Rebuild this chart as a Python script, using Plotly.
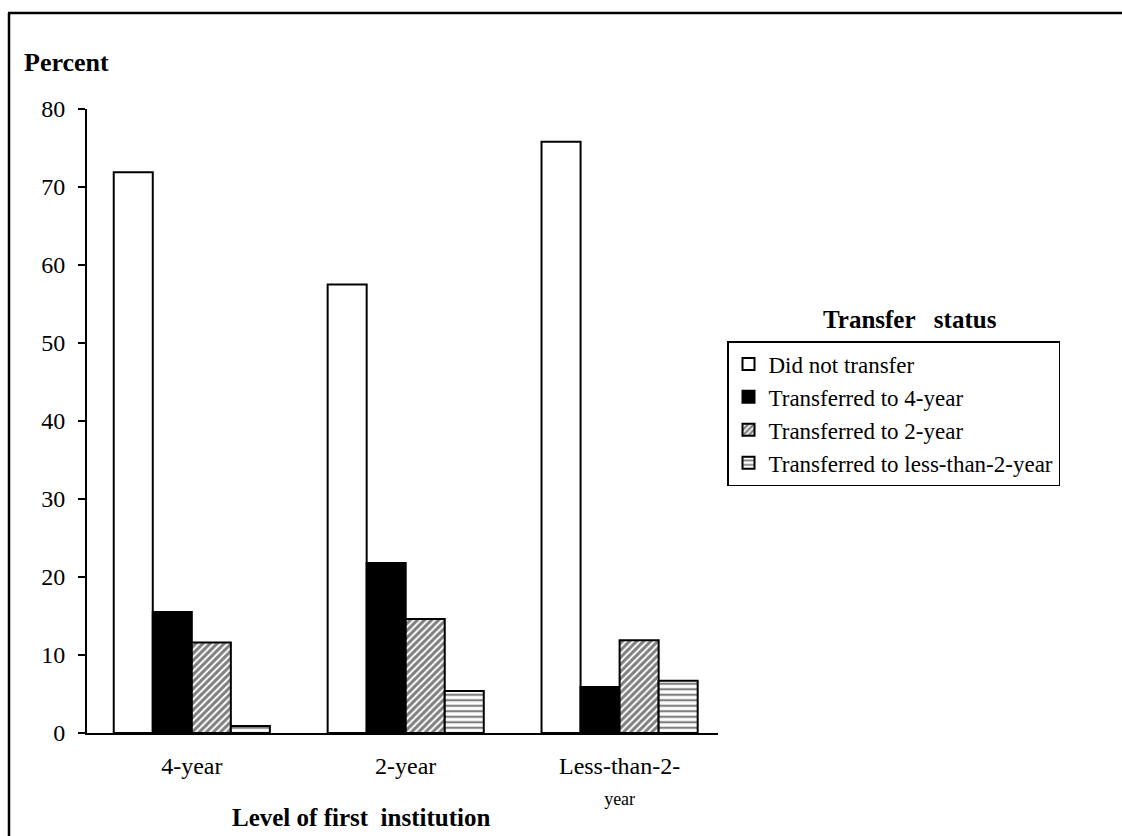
import plotly.graph_objects as go

# Level of first institution (x categories)
categories = ["4-year", "2-year", "Less-than-2-year"]
tick_labels = ["4-year", "2-year", "Less-than-2-<br><span style='font-size:18px'>year</span>"]

# Percent of students by transfer status
did_not_transfer = [71.9, 57.5, 75.8]
to_4_year = [15.5, 21.8, 5.9]
to_2_year = [11.6, 14.6, 11.9]
to_less_than_2 = [0.9, 5.4, 6.7]

series_names = [
    "Did not transfer",
    "Transferred to 4-year",
    "Transferred to 2-year",
    "Transferred to less-than-2-year",
]

FONT = "Liberation Serif"
BLACK = "#000000"

fig = go.Figure()

line = dict(color=BLACK, width=2)
fig.add_trace(go.Bar(x=categories, y=did_not_transfer, name=series_names[0],
                     marker=dict(color="white", line=line)))
fig.add_trace(go.Bar(x=categories, y=to_4_year, name=series_names[1],
                     marker=dict(color=BLACK, line=line)))
fig.add_trace(go.Bar(x=categories, y=to_2_year, name=series_names[2],
                     marker=dict(color="white", line=line,
                                 pattern=dict(shape="/", fgcolor=BLACK, bgcolor="white",
                                              size=5, solidity=0.6))))
fig.add_trace(go.Bar(x=categories, y=to_less_than_2, name=series_names[3],
                     marker=dict(color="white", line=line,
                                 pattern=dict(shape="-", fgcolor=BLACK, bgcolor="white",
                                              size=5.5, solidity=0.4))))

# plot area in pixels
L, R, T, B = 87, 718, 109, 733
W, H = 1122, 836
pw, ph = R - L, B - T


def px(x):
    return (x - L) / pw


def py(y):
    return (B - y) / ph


fig.update_layout(
    width=W, height=H,
    margin=dict(l=L, r=W - R, t=T, b=H - B, pad=0),
    paper_bgcolor="white", plot_bgcolor="white",
    barmode="group", bargap=0.27, bargroupgap=0,
    font=dict(family=FONT, size=24, color=BLACK),
    showlegend=True,
    legend=dict(
        x=px(727), y=py(341), xanchor="left", yanchor="top",
        bordercolor=BLACK, borderwidth=1.5, bgcolor="white",
        font=dict(family=FONT, size=23, color=BLACK),
        traceorder="normal", itemwidth=30,
    ),
    xaxis=dict(
        range=[-0.49, 2.46], showline=True, linecolor=BLACK, linewidth=2,
        ticks="", tickmode="array", tickvals=categories, ticktext=tick_labels,
        ticklabelstandoff=10, showgrid=False, zeroline=False,
        tickfont=dict(family=FONT, size=24, color=BLACK),
    ),
    yaxis=dict(
        range=[0, 80], dtick=10, showline=True, linecolor=BLACK, linewidth=2,
        ticks="outside", ticklen=7, tickwidth=2, tickcolor=BLACK,
        ticklabelstandoff=8, showgrid=False, zeroline=False,
        tickfont=dict(family=FONT, size=24, color=BLACK),
    ),
    annotations=[
        dict(text="<b>Percent</b>", x=px(22), y=py(62), xref="paper", yref="paper",
             xanchor="left", yanchor="middle", showarrow=False,
             font=dict(family=FONT, size=26, color=BLACK)),
        dict(text="<b>Level of first  institution</b>", x=px(361), y=py(817),
             xref="paper", yref="paper", xanchor="center", yanchor="middle",
             showarrow=False, font=dict(family=FONT, size=25, color=BLACK)),
        dict(text="<b>Transfer   status</b>", x=px(910), y=py(319),
             xref="paper", yref="paper", xanchor="center", yanchor="middle",
             showarrow=False, font=dict(family=FONT, size=25, color=BLACK)),
    ],
    shapes=[
        dict(type="line", xref="paper", yref="paper",
             x0=px(8), x1=px(1122), y0=py(13), y1=py(13),
             line=dict(color=BLACK, width=2.5)),
        dict(type="line", xref="paper", yref="paper",
             x0=px(9), x1=px(9), y0=py(13), y1=py(836),
             line=dict(color=BLACK, width=2.5)),
    ],
)

fig.write_html("out.html")
